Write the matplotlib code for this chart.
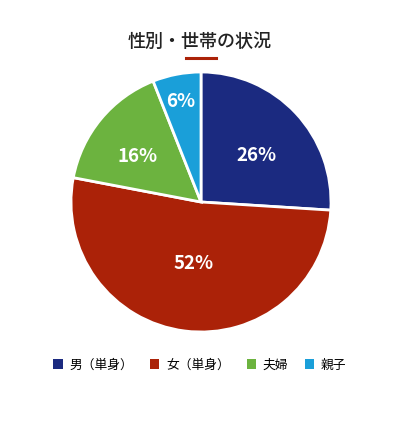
import numpy as np
import matplotlib
matplotlib.use('Agg')
import matplotlib.pyplot as plt
from matplotlib.lines import Line2D
from matplotlib.patches import Patch

plt.rcParams['font.family'] = ['Noto Sans CJK JP', 'DejaVu Sans']

# Data
labels = ['男（単身）', '女（単身）', '夫婦', '親子']
values = [26, 52, 16, 6]
colors = ['#1b2a80', '#ab2208', '#6cb33f', '#1a9fd9']
label_dist = [0.59, 0.43, 0.63, 0.84]
title = '性別・世帯の状況'

W, H = 400, 424
fig = plt.figure(figsize=(W / 100, H / 100), dpi=100)

# pie axes: center (201, 202) px, radius ~130 px
cx, cy, r = 201, 202, 130
ax = fig.add_axes([(cx - r) / W, (H - cy - r) / H, 2 * r / W, 2 * r / H])
wedges, _ = ax.pie(values, colors=colors, startangle=90, counterclock=False,
                   radius=1, wedgeprops=dict(edgecolor='white', linewidth=2))
ax.set_xlim(-1, 1)
ax.set_ylim(-1, 1)

total = sum(values)
cum = 0
for v, d in zip(values, label_dist):
    mid = (cum + v / 2) / total * 2 * np.pi
    cum += v
    x = d * np.sin(mid)
    y = d * np.cos(mid) - 0.05
    ax.text(x, y, f'{v}%', color='white', fontsize=13.5, fontweight='bold',
            ha='center', va='center')

# title and underline
fig.text(0.5, 1 - 42 / H, title, ha='center', va='center', fontsize=13,
         fontweight='medium', color='#222222')
fig.add_artist(Line2D([186 / W, 216 / W], [1 - 58 / H, 1 - 58 / H],
                      color='#ab2208', lw=2.2, transform=fig.transFigure))

# legend
handles = [Patch(facecolor=c, edgecolor='none') for c in colors]
fig.legend(handles, labels, loc='center', bbox_to_anchor=(0.5, 1 - 365 / H),
           ncol=4, frameon=False, fontsize=9.2, handlelength=0.72, handleheight=0.72,
           handletextpad=0.55, columnspacing=1.3)

fig.savefig('out.png', dpi=100)
